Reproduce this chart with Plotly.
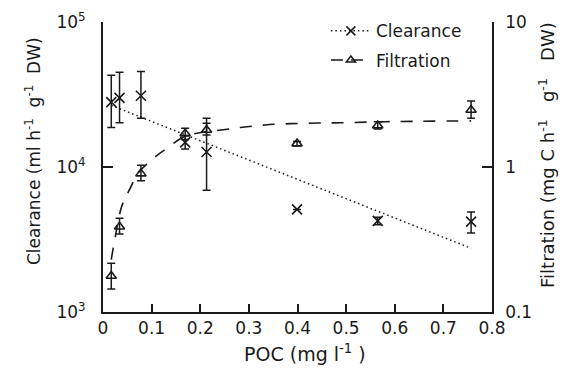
import plotly.graph_objects as go

# ---- data ----
poc = [0.017, 0.034, 0.078, 0.169, 0.213, 0.399, 0.565, 0.757]

clearance = [28000, 30000, 31000, 14800, 12700, 5100, 4250, 4200]
clearance_hi = [43000, 45000, 45500, 16500, 20000, 5100, 4500, 4900]
clearance_lo = [18700, 20200, 21700, 13300, 6900, 5100, 4000, 3500]

filtration = [0.177, 0.387, 0.90, 1.70, 1.80, 1.45, 1.93, 2.47]
filtration_hi = [0.217, 0.443, 1.03, 1.85, 2.17, 1.50, 2.05, 2.85]
filtration_lo = [0.144, 0.345, 0.805, 1.55, 1.66, 1.40, 1.83, 2.17]

clear_fit_x = [0.017, 0.757]
clear_fit_y = [26600, 2750]

filt_fit_x = [0.017, 0.023, 0.038, 0.049, 0.062, 0.066, 0.104, 0.129, 0.17,
              0.255, 0.282, 0.333, 0.385, 0.44, 0.49, 0.61, 0.757]
filt_fit_y = [0.23, 0.30, 0.53, 0.64, 0.79, 0.86, 1.15, 1.33, 1.63,
              1.82, 1.87, 1.95, 1.99, 2.01, 2.02, 2.06, 2.08]

left_major = [1e3, 1e4, 1e5]
left_major_text = ["10<sup>3</sup>", "10<sup>4</sup>", "10<sup>5</sup>"]
right_major = [0.1, 1, 10]
right_major_text = ["0.1", "1", "10"]
left_minor = [m * d for d in (1e3, 1e4) for m in range(2, 10)]
right_minor = [m * d for d in (0.1, 1) for m in range(2, 10)]

FONT = "DejaVu Sans, Verdana, sans-serif"
INK = "#1a1a1a"
FS = 17

fig = go.Figure()

# fitted lines
fig.add_trace(go.Scatter(x=clear_fit_x, y=clear_fit_y, mode="lines",
                         line=dict(color=INK, width=1.5, dash="1.5px,3px"),
                         showlegend=False, hoverinfo="skip"))
fig.add_trace(go.Scatter(x=filt_fit_x, y=filt_fit_y, mode="lines", yaxis="y2",
                         line=dict(color=INK, width=1.6, dash="12px,11px", shape="spline"),
                         showlegend=False, hoverinfo="skip"))

# data points
fig.add_trace(go.Scatter(
    x=poc, y=clearance, mode="markers", showlegend=False,
    marker=dict(symbol="x-thin-open", size=10, color=INK, line=dict(color=INK, width=1.6)),
    error_y=dict(type="data", symmetric=False,
                 array=[h - v for h, v in zip(clearance_hi, clearance)],
                 arrayminus=[v - l for v, l in zip(clearance, clearance_lo)],
                 color=INK, thickness=1.5, width=4)))
fig.add_trace(go.Scatter(
    x=poc, y=filtration, mode="markers", yaxis="y2", showlegend=False,
    marker=dict(symbol="triangle-up-open", size=9, color=INK, line=dict(color=INK, width=1.6)),
    error_y=dict(type="data", symmetric=False,
                 array=[h - v for h, v in zip(filtration_hi, filtration)],
                 arrayminus=[v - l for v, l in zip(filtration, filtration_lo)],
                 color=INK, thickness=1.5, width=4)))

# legend entries
fig.add_trace(go.Scatter(x=[None], y=[None], mode="lines+markers", name="Clearance",
                         legendgroup="c",
                         line=dict(color=INK, width=1.5, dash="1.5px,3px"),
                         marker=dict(symbol="x-thin-open", size=9, color=INK,
                                     line=dict(color=INK, width=1.5))))
fig.add_trace(go.Scatter(x=[None], y=[None], mode="lines+markers", name="Filtration",
                         legendgroup="f",
                         line=dict(color=INK, width=1.5, dash="12px,8px"),
                         marker=dict(symbol="triangle-up-open", size=8, color=INK,
                                     line=dict(color=INK, width=1.5))))

fig.update_layout(
    width=564, height=370,
    margin=dict(l=103, r=72, t=22, b=58, autoexpand=False),
    paper_bgcolor="white", plot_bgcolor="white",
    font=dict(family=FONT, size=FS, color=INK),
    showlegend=True,
    legend=dict(x=0.573, y=1.03, xanchor="left", yanchor="top",
                bgcolor="rgba(0,0,0,0)", font=dict(size=FS),
                tracegroupgap=4, itemwidth=40),
    xaxis=dict(range=[0, 0.8], dtick=0.1, tick0=0, ticks="inside", ticklen=8,
               tickwidth=1.5, tickcolor=INK, showline=True, linewidth=2, linecolor=INK,
               showgrid=False, zeroline=False, tickfont=dict(size=FS)),
    yaxis=dict(type="log", range=[3, 5], tickvals=left_major, ticktext=left_major_text,
               ticks="inside", ticklen=10, tickwidth=1.5, tickcolor=INK,
               showline=True, linewidth=2, linecolor=INK, showgrid=False, zeroline=False,
               ticklabelstandoff=12, tickfont=dict(size=FS)),
    yaxis2=dict(type="log", range=[-1, 1], overlaying="y", side="right", anchor="x",
                tickvals=right_major, ticktext=right_major_text,
                ticks="inside", ticklen=10, tickwidth=1.5, tickcolor=INK,
                showline=True, linewidth=1.5, linecolor=INK, showgrid=False, zeroline=False,
                ticklabelstandoff=8, tickfont=dict(size=FS)),
    yaxis3=dict(type="log", range=[3, 5], overlaying="y", side="left", anchor="x",
                tickvals=left_minor, ticks="inside", ticklen=6, tickwidth=1.3, tickcolor=INK,
                showticklabels=False, showline=False, showgrid=False, zeroline=False),
    yaxis4=dict(type="log", range=[-1, 1], overlaying="y", side="right", anchor="x",
                tickvals=right_minor, ticks="inside", ticklen=6, tickwidth=1.3, tickcolor=INK,
                showticklabels=False, showline=False, showgrid=False, zeroline=False),
    annotations=[
        dict(text="POC (mg l<sup>-1</sup> )", x=0.52, y=-0.141, xref="paper", yref="paper",
             xanchor="center", yanchor="middle", showarrow=False, font=dict(size=19)),
        dict(text="Clearance (ml h<sup>-1</sup>\u00a0 g<sup>-1</sup>\u00a0 DW)", x=-0.18, y=0.555,
             xref="paper", yref="paper", textangle=-90, xanchor="center", yanchor="middle",
             showarrow=False, font=dict(size=FS)),
        dict(text="Filtration (mg C h<sup>-1</sup>\u00a0\u00a0 g<sup>-1</sup>\u00a0\u00a0 DW)", x=1.141, y=0.541,
             xref="paper", yref="paper", textangle=-90, xanchor="center", yanchor="middle",
             showarrow=False, font=dict(size=18)),
    ],
)

fig.write_html("out.html", config={"displayModeBar": False},
               post_script="document.body.style.margin='0';")
